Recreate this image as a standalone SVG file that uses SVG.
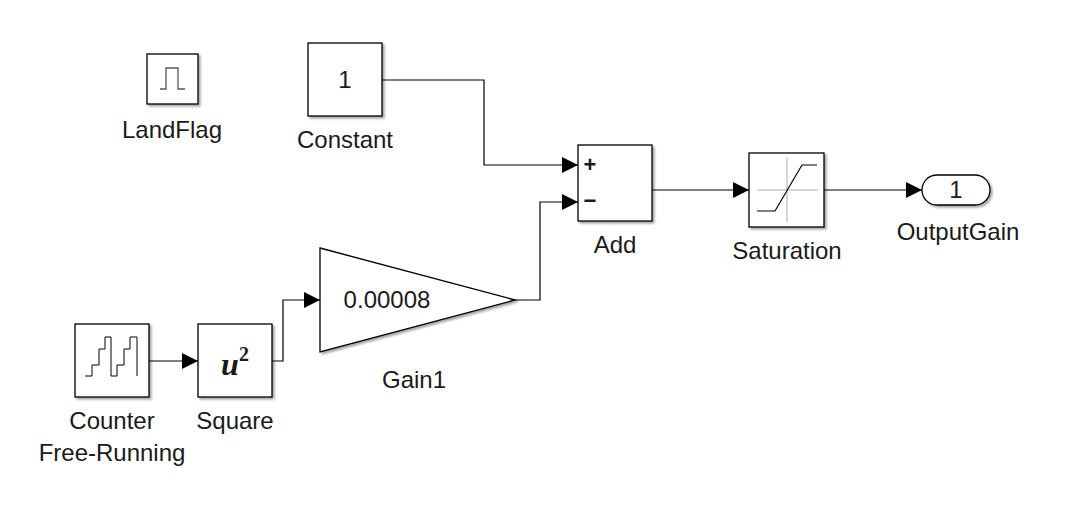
<svg xmlns="http://www.w3.org/2000/svg" width="1074" height="505" viewBox="0 0 1074 505">
<defs>
<marker id="ar" markerWidth="16" markerHeight="16" refX="16" refY="8" orient="auto" markerUnits="userSpaceOnUse"><path d="M0,0 L16,8 L0,16 Z" fill="#000"/></marker>
<filter id="sh" x="-10%" y="-10%" width="130%" height="130%"><feDropShadow dx="2" dy="2" stdDeviation="1" flood-color="#000" flood-opacity="0.35"/></filter>
</defs>
<style>
.b{fill:#fff;stroke:#000;stroke-width:1.3;filter:url(#sh)}
.c{fill:none;stroke:#000;stroke-width:1.2;marker-end:url(#ar)}
text{font-family:"Liberation Sans",Arial,sans-serif;font-size:24px;text-anchor:middle;fill:#1a1a1a}
.u{font-family:"Liberation Serif",serif;font-style:italic;font-weight:bold;font-size:32px}
.sup{font-size:20px;font-style:normal}
.pm{font-size:22px;font-weight:bold}
</style>
<rect width="1074" height="505" fill="#fff"/>
<g id="LandFlag"><rect class="b" x="147" y="54" width="51" height="50"/><path d="M160,89 H166 V68 H178 V89 H185" fill="none" stroke="#555" stroke-width="1.3"/><text x="172" y="138">LandFlag</text></g>
<g id="Constant"><rect class="b" x="308" y="43" width="74" height="73"/><text x="345" y="88">1</text><text x="345" y="148">Constant</text></g>
<g id="Counter"><rect class="b" x="75" y="324" width="74" height="73"/><path d="M85,376 H92 V365 H99 V349 H105 V337 H111 V376 H117 V365 H124 V349 H130 V337 H137 V376" fill="none" stroke="#000" stroke-width="1"/><text x="112" y="429">Counter</text><text x="112" y="461">Free-Running</text></g>
<g id="Square"><rect class="b" x="198" y="324" width="74" height="73"/><text class="u" x="235" y="375">u<tspan class="sup" dy="-14">2</tspan></text><text x="235" y="429">Square</text></g>
<g id="Gain1"><path class="b" d="M320,248 L515,300 L320,352 Z"/><text x="387" y="308">0.00008</text><text x="414" y="388">Gain1</text></g>
<g id="Add"><rect class="b" x="578" y="145" width="74" height="76"/><text class="pm" x="590" y="172">+</text><text class="pm" x="590" y="208">−</text><text x="615" y="253">Add</text></g>
<g id="Saturation"><rect class="b" x="749" y="153" width="75" height="74"/><path d="M757,190 H818 M787,158 V222" stroke="#aaa" stroke-width="1"/><path d="M757,211 H775 L802,165 H817" fill="none" stroke="#000" stroke-width="1.2"/><text x="787" y="259">Saturation</text></g>
<g id="OutputGain"><rect class="b" x="922" y="175" width="68" height="30" rx="15"/><text x="956" y="198">1</text><text x="958" y="240">OutputGain</text></g>
<g id="connectors">
<path class="c" d="M149,361 H198"/>
<path class="c" d="M272,361 H283 V300 H320"/>
<path class="c" d="M382,80 H484 V165 H578"/>
<path class="c" d="M515,300 H540 V202 H578"/>
<path class="c" d="M652,190 H749"/>
<path class="c" d="M824,190 H922"/>
</g>
</svg>
